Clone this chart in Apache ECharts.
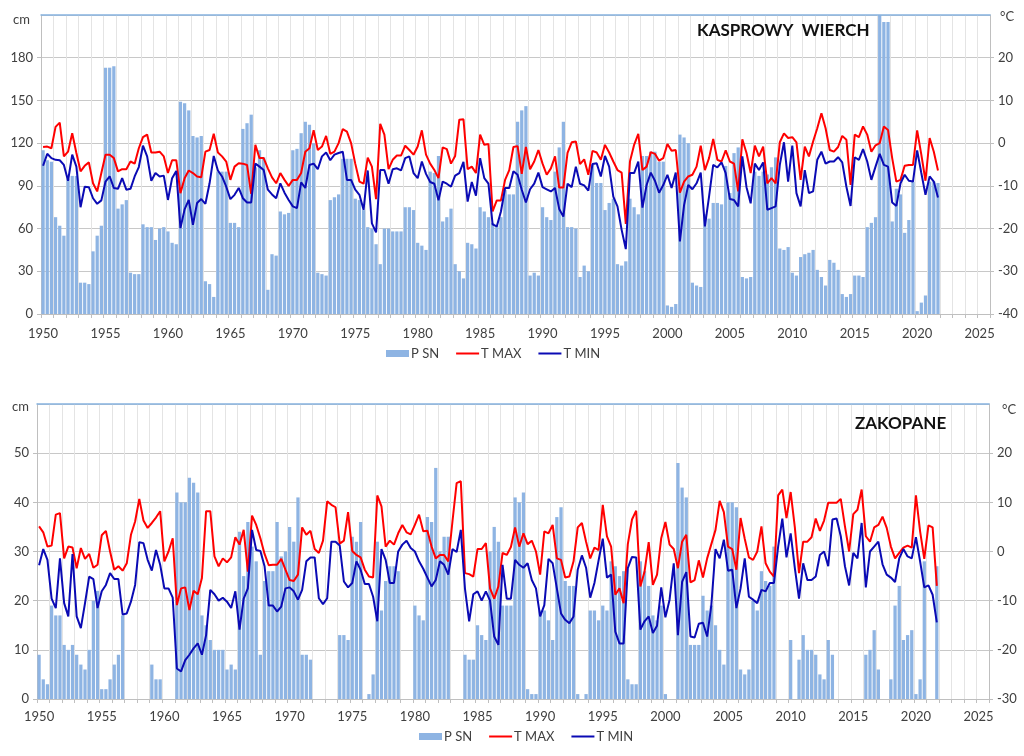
<!DOCTYPE html>
<html><head><meta charset="utf-8">
<script src="https://cdn.jsdelivr.net/npm/echarts@6/dist/echarts.min.js"></script>
<style>html,body{margin:0;padding:0;background:#fff}#c{width:1024px;height:756px}</style>
</head><body><div id="c"></div>
<script>
// three winter values per year, 1950..2021
const firstYear = 1950;
const lastAxisYear = 2025;
const labelEveryYears = 5;

const kasprowySnow = [
115,108,107,68,62,55,95,97,97,22,22,21,44,55,62,
173,173,174,74,77,80,29,28,28,63,61,61,52,60,61,
58,50,49,149,148,143,125,124,125,23,21,12,100,100,100,
64,64,61,130,134,140,103,115,110,17,42,41,72,70,71,
115,116,127,135,133,120,29,28,27,80,82,84,109,109,109,
81,80,73,61,60,49,35,60,60,58,58,58,75,75,73,
50,48,45,100,99,111,65,68,74,35,30,25,50,49,46,
75,72,68,64,62,68,87,84,84,135,143,146,27,29,27,
75,68,66,100,117,135,61,61,60,26,34,30,105,92,92,
73,78,81,35,34,37,81,75,70,111,111,114,114,107,107,
6,5,7,126,124,120,22,20,19,70,67,78,78,77,104,
85,113,117,26,25,26,100,97,100,98,103,110,46,45,47,
29,27,40,42,43,45,31,26,20,38,36,31,14,12,14,
27,27,26,61,64,68,230,205,205,65,88,84,57,66,93,
2,8,13,93,93,92];

const kasprowyTmax = [
-0.9,-0.8,-1.2,3.8,4.8,-3.1,-2,2.3,-2.3,-6.6,-5.3,-4.5,-9.4,-11.3,-7,
-2.7,-2.7,-3.5,-6.6,-6.1,-6.1,-4.3,-4.8,-1.2,1.4,2,-2.2,-2.2,-2,-3.1,
-7,-4,-4,-11.7,-8.2,-6.4,-7,-7.8,-8,-2,-1.6,2.2,-2.2,-3.1,-4.3,
-8.6,-5.5,-4.7,-4.8,-5.1,-11.9,-0.4,-3.5,-3.5,-5.9,-8,-9.4,-7,-8.6,-10,
-8.6,-8.6,-7,-2,-1.2,3,-1.6,-0.8,1.7,-2.5,-2,0,3.3,2.7,0,
-4.8,-9,-9.5,-3.4,-5.5,-13.1,4.5,2,-6.1,-3.9,-2.9,-2.9,-0.6,-1.6,-2.7,
-0.8,3,-2.7,-4.8,-6.3,-8.2,-1,-1.4,-4.8,-3,5.5,5.6,-6.1,-5.5,-7,
2,-0.4,-0.2,-16,-13.4,-13.4,-8.6,-6.3,-0.9,-0.7,-7.2,-0.9,-6.1,-4.3,-1.6,
-4.8,-7.4,-5.9,-3.1,-10.4,-10.4,-2.3,0.2,0.4,-4.9,-3.8,-7.4,-1.8,-2.2,-3.9,
-0.4,-2.2,-4.3,-6.3,-6.9,-18.9,-4.3,-0.4,2.2,-6.3,-5.5,-2.1,-2.5,-4.1,-3.5,
-0.2,-1.8,-1.6,-11.6,-9,-7.8,-7.4,-5.5,-0.6,-6.3,-3.5,1,-3.9,-4.3,-1.7,
-4.3,-4.8,-11.3,0.9,-2.3,-7,-0.6,-3.1,-0.8,-9.4,-8.2,-9.4,0.2,2.3,1.2,
1.4,0.2,-8.6,-0.8,-3.1,0.4,3.5,7,3.5,-1.6,-2,-0.9,1.7,0.8,-9.8,
2,1.4,3.9,2,-2,-0.5,0,3.9,3.1,-3.5,-9,-8.6,-5.3,-5.1,-5.1,
3,-2.7,-8.8,1.2,-2,-6.4];

const kasprowyTmin = [
-5.3,-2.5,-3.5,-3.9,-4,-5.1,-8.8,-2.7,-5.5,-15,-10.2,-10.3,-12.9,-14.2,-13.4,
-9,-7.8,-10.5,-10.7,-8.2,-10.9,-10.7,-7.8,-5.6,-0.6,-3.1,-8.8,-7,-7.8,-7.6,
-13.3,-8.2,-6.5,-19.9,-15.5,-13.3,-19.1,-14,-13.1,-14.2,-9.4,-3,-6.4,-7.8,-10.2,
-13.1,-12.1,-10.5,-12.9,-13.9,-13.9,-4.8,-5.5,-6.3,-10.9,-12,-12.9,-9.4,-11.6,-13.3,
-14.8,-15.2,-9.2,-10.5,-5.1,-4.8,-6.1,-3.1,-2.2,-4,-2.7,-2.3,-2,-8.6,-8.6,
-10.9,-12.1,-15.6,-6.4,-18.8,-20.9,-6.3,-6.3,-9.5,-6.1,-5.9,-6.4,-3.5,-3.1,-7,
-8.2,-4.3,-7.2,-9.1,-9.5,-13.4,-9,-9.5,-10.2,-7.6,-7,-4.4,-13.7,-9.1,-12.3,
-3.5,-8.2,-9.5,-19,-19.5,-16,-10.5,-10.5,-6.6,-7.4,-10.9,-13.9,-10.8,-9.5,-6.9,
-10.3,-10.8,-11.3,-10.5,-15.4,-17.2,-9.5,-10.3,-5.5,-9.5,-9.9,-11.1,-4.9,-4.7,-7.8,
-3,-5.5,-12.5,-14.8,-20.3,-24.8,-7,-7,-4.3,-15.1,-9.8,-6.9,-8.8,-11.6,-9.8,
-7.4,-10.5,-6.9,-23,-14.5,-9.8,-10.8,-9.4,-6.9,-19.5,-12.5,-5.1,-5.7,-4.5,-7,
-13.1,-13.3,-14.8,-3.1,-10.3,-14.1,-4.8,-6.3,-4.5,-15.6,-15.2,-14.8,-5.1,0.2,-9,
-0.6,-11.7,-14.8,-6.3,-11.7,-11.3,-3.9,-2,-4.8,-4.3,-4.3,-3.3,-4.5,-10.2,-14.7,
-3.3,-3.9,-1.4,-4.3,-8.6,-5.5,-2.5,-5.1,-5.5,-13.9,-14.7,-9.4,-7.4,-8.8,-9,
-1.7,-7,-12.1,-7.8,-9,-12.7];

const zakopaneSnow = [
9,4,3,19,17,17,11,10,11,9,7,6,10,20,22,
2,2,4,7,9,17,0,0,0,0,0,0,7,4,4,
0,0,0,42,40,40,45,44,42,17,15,12,10,10,10,
6,7,6,34,25,36,31,28,9,24,26,26,36,29,30,
35,32,41,9,9,8,0,0,0,0,0,0,13,13,12,
33,32,36,0,1,5,32,18,24,27,27,26,0,0,0,
19,17,16,37,36,47,30,33,33,0,0,0,9,8,8,
15,13,12,30,35,32,19,19,19,41,40,42,2,1,1,
18,18,16,12,37,39,24,23,23,1,0,1,18,18,16,
19,18,28,27,25,26,4,3,3,28,26,23,17,16,19,
1,0,0,48,43,41,11,11,11,21,18,19,15,10,7,
40,40,39,6,5,6,20,18,26,24,23,31,0,0,0,
12,0,8,13,10,10,9,5,4,12,9,0,0,0,0,
0,0,0,9,10,14,6,0,0,4,19,23,12,13,14,
1,4,28,0,0,27];

const zakopaneTmax = [
5.1,3.9,1,1.2,7.5,7.8,-1.4,1,0.8,-3.4,0.7,-1.5,-0.5,-3.3,-2.7,
3.3,4.2,0,-3.7,-3,-3.9,-2.4,3.4,6.1,10.7,6.3,4.8,5.8,6.9,8.2,
-2,0,2.7,-10.9,-7.5,-7.3,-11.9,-8,-8.7,-5.4,8.2,8.2,-1,-3,-1.4,
-2.2,-1.2,2.9,1.4,4.4,-4.1,7.3,5.4,2.7,-0.5,-2.8,-2.7,-2.7,-1.5,-3.7,
-5.8,-6,-4.7,4.9,3.4,4.2,0.5,-0.3,2.2,10.2,9.5,9,1.6,2.2,8,
0.1,-0.7,-1.2,-3.7,-5.1,-5.3,11.4,9.2,1,2.2,1.4,3.7,5.4,3.9,3.5,
5.4,7.5,4.1,4.2,1,-1.4,-0.7,-0.7,-2,6.1,13.9,14.3,-4.4,-4.6,-5.1,
0.5,0.5,1.7,-7.5,-9.6,-7.1,-0.3,-0.7,0.9,4.9,1,3.7,1.5,2.2,0,
-4.7,4.1,3.7,5.4,-1.4,-1.7,-5.3,-5.1,-2,4.9,5.8,2,-1.4,0.8,0.3,
9.5,3.1,1,-8.8,-7.5,-10.5,1.5,6.5,8.3,-7.1,-4.1,1.9,-6.8,-4.7,2.7,
6,1.4,0.5,-3.4,2,3.4,-6.3,-5.8,-1.8,-5.3,-1.4,1.5,4.4,10.3,8,
1,0.5,-3.7,6.8,2.6,-1.2,-1.7,0,5.1,-2.4,-4.1,-5.1,11.4,12.6,6.8,
12.1,4.9,-4.4,2,2,2.9,6.7,4.2,6.3,9.9,9.9,9.9,10.7,5.1,0,
7.6,8.5,12.6,3.1,2,4.9,5.4,7.1,4.8,1,-1.4,-0.3,0.8,1.2,0.8,
11.4,4.1,-1.5,5.3,4.9,-7];

const zakopaneTmin = [
-2.8,0.5,-1.7,-9.6,-11.5,-1.4,-10.5,-13.2,-0.5,-13.2,-15.6,-10.5,-5.1,-5.6,-11.5,
-8.1,-6.8,-4.4,-5.6,-5.6,-12.8,-12.6,-10.2,-6.8,1.9,1.7,-1.7,-3.9,0.3,-2.7,
-7.5,-7.5,-9.4,-23.8,-24.4,-22.1,-21,-19.7,-18.7,-21,-17,-7.8,-8.7,-10,-9.4,
-10.2,-11.5,-8.1,-15.9,-9.6,-7.5,4.4,0.3,0.1,-3,-11,-11,-12.2,-11.2,-7.5,
-7.3,-8.1,-9.8,-7.8,-2,-1.2,-1.2,-9.5,-10.7,-9.5,2,2,1.2,-6.1,-7.3,
-6.4,-2,-3.7,-6.6,-6.6,-9.2,-14.2,0.5,-1.7,-6.4,-6.4,0,1.4,2.2,0.7,
0,-2,-3.5,-5.3,-7.1,-5.8,-2,-2.7,-4.7,0.5,-0.1,4.4,-7.6,-14.2,-8.7,
-8.1,-10,-8.1,-10,-17.3,-19,-2.7,-9.6,-9.6,-1.7,-2.7,-3.3,-2.4,-5.8,-7.5,
-13.2,-10.9,-1.5,-2.4,-7.5,-12.6,-13.9,-14.6,-13.2,-3.7,-0.8,-3.3,-9.4,-6.4,-1.8,
2.6,-5.3,-4.7,-16.3,-18.7,-18.7,-3.4,-1.1,-1.2,-15.9,-14.2,-13.2,-16.6,-15.1,-7.3,
-13.4,-9.8,-2.4,-17,-6.2,-4.2,-17.3,-17.5,-14.7,-14.5,-17.3,-10.9,0.5,-1.4,2.4,
-3.9,-3.7,-11.5,-7.5,-1.4,-9.2,-9.8,-10.5,-7.8,-8.1,-6.4,-6.4,1,6.7,-1.2,
3.7,-3.4,-9.6,-2.4,-5.8,-5.8,-5.1,-0.7,0,-3,6.5,6.7,3.1,-3,-6.9,
-0.3,-1.4,5.8,-7.3,0,1,2,-2.6,-4.7,-5.3,-6.2,-1.4,0.5,-1,-1.4,
2.9,-2,-7.3,-6.9,-8.8,-14.4];

// category axis: 3 slots per year, 1950..2025
const categories = [];
for (let y = firstYear; y <= lastAxisYear; y++) { for (let k = 0; k < 3; k++) categories.push(String(y)); }

const FONT = 'Lato, "Noto Sans", sans-serif';
const TXT = '#404040';
const every3 = (i) => i % 3 === 0;
const every15 = (i) => i % (3 * labelEveryYears) === 0;

function bottomX(grid, margin) {
  return {
    type: 'category', gridIndex: grid, data: categories, boundaryGap: true, position: 'bottom',
    axisLine: { onZero: false, lineStyle: { color: '#bfbfbf' } },
    axisTick: { show: true, interval: every3, length: 4, lineStyle: { color: '#bfbfbf' } },
    axisLabel: { interval: every15, color: TXT, fontSize: 13, fontFamily: FONT, margin: margin },
    splitLine: { show: true, interval: every3, lineStyle: { color: '#e4e4e4' } }
  };
}
function topX(grid) {
  return {
    type: 'category', gridIndex: grid, data: categories, position: 'top', z: 5,
    axisLine: { onZero: false, lineStyle: { color: '#86b3e0', width: 1.5 } },
    axisTick: { show: false }, axisLabel: { show: false }, splitLine: { show: false }
  };
}
function leftY(grid, max, interval, nameGap, pad) {
  return {
    type: 'value', gridIndex: grid, min: 0, max: max, interval: interval, position: 'left',
    name: 'cm', nameLocation: 'end', nameGap: nameGap,
    nameTextStyle: { color: TXT, fontSize: 13, fontFamily: FONT, align: 'right', verticalAlign: 'middle', padding: [0, pad, 0, 0] },
    axisLine: { show: true, onZero: false, lineStyle: { color: '#bfbfbf' } },
    axisTick: { show: true, length: 4, lineStyle: { color: '#bfbfbf' } },
    axisLabel: { color: TXT, fontSize: 13, fontFamily: FONT, margin: 8, showMaxLabel: false },
    splitLine: { show: true, lineStyle: { color: '#c8c8c8' } }
  };
}
function rightY(grid, min, max, nameGap, pad) {
  return {
    type: 'value', gridIndex: grid, min: min, max: max, interval: 10, position: 'right',
    name: '°C', nameLocation: 'end', nameGap: nameGap,
    nameTextStyle: { color: TXT, fontSize: 13, fontFamily: FONT, align: 'left', verticalAlign: 'middle', padding: [0, 0, 0, pad] },
    axisLine: { show: true, onZero: false, lineStyle: { color: '#bfbfbf' } },
    axisTick: { show: true, length: 4, lineStyle: { color: '#bfbfbf' } },
    axisLabel: { color: TXT, fontSize: 13, fontFamily: FONT, margin: 8, showMaxLabel: false },
    splitLine: { show: false }
  };
}
function seriesFor(xi, yl, yr, snow, tmax, tmin) {
  return [
    { name: 'P SN', type: 'bar', xAxisIndex: xi, yAxisIndex: yl, data: snow, barCategoryGap: '22%',
      itemStyle: { color: '#8eb4e3' } },
    { name: 'T MAX', type: 'line', xAxisIndex: xi, yAxisIndex: yr, data: tmax, symbol: 'none',
      lineStyle: { color: '#ff0000', width: 2 }, itemStyle: { color: '#ff0000' }, z: 3 },
    { name: 'T MIN', type: 'line', xAxisIndex: xi, yAxisIndex: yr, data: tmin, symbol: 'none',
      lineStyle: { color: '#0a0ab4', width: 2 }, itemStyle: { color: '#0a0ab4' }, z: 4 }
  ];
}
const LINE_ICON = 'path://M0,3H23V5H0Z';
function legendAt(left, top) {
  return {
    left: left, top: top, itemWidth: 23, itemHeight: 7, itemGap: 17, padding: 0,
    textStyle: { color: TXT, fontSize: 13, fontFamily: FONT, padding: [0, 0, 0, -3] },
    data: [{ name: 'P SN', icon: 'rect' }, { name: 'T MAX', icon: LINE_ICON }, { name: 'T MIN', icon: LINE_ICON }],
    selectedMode: false
  };
}

const chart = echarts.init(document.getElementById('c'), null, { renderer: 'canvas' });
chart.setOption({
  animation: false,
  backgroundColor: '#ffffff',
  title: [
    { text: 'KASPROWY  WIERCH', left: 697, top: 22, padding: 0,
      textStyle: { fontSize: 17, fontWeight: 'bold', color: '#111', fontFamily: FONT } },
    { text: 'ZAKOPANE', left: 855, top: 415, padding: 0,
      textStyle: { fontSize: 17, fontWeight: 'bold', color: '#111', fontFamily: FONT } }
  ],
  legend: [legendAt(386, 347), legendAt(419, 730)],
  grid: [
    { left: 41, right: 34, top: 15, height: 299 },
    { left: 37, right: 35, top: 404, height: 295 }
  ],
  xAxis: [bottomX(0, 13), topX(0), bottomX(1, 11), topX(1)],
  yAxis: [
    leftY(0, 210, 30, -5, 11), rightY(0, -40, 30, -2, 10),
    leftY(1, 60, 10, -3, 8), rightY(1, -30, 30, -6, 13)
  ],
  series: [].concat(
    seriesFor(0, 0, 1, kasprowySnow, kasprowyTmax, kasprowyTmin),
    seriesFor(2, 2, 3, zakopaneSnow, zakopaneTmax, zakopaneTmin)
  )
});
</script>
</body></html>
